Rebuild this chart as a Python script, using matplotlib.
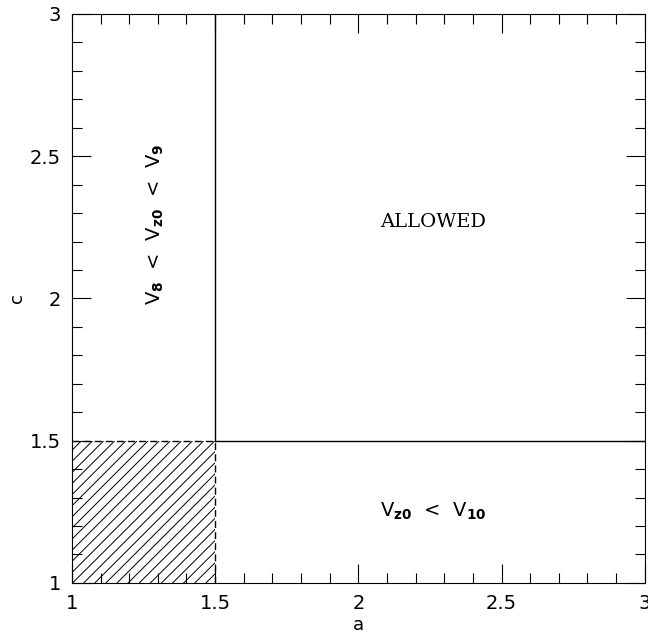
import matplotlib.pyplot as plt
import numpy as np

# region boundaries in (a, c)
aEdge = 1.5
cEdge = 1.5
aLim = [1, 3]
cLim = [1, 3]
majorTicks = [1, 1.5, 2, 2.5, 3]
tickLabels = ["1", "1.5", "2", "2.5", "3"]

fig = plt.figure(figsize=(6.48, 6.35), dpi=100)
ax = fig.add_axes([0.111, 0.082, 0.884, 0.896])

# hatched excluded corner
plt.rcParams['hatch.linewidth'] = 0.7
ax.fill_between([aLim[0], aEdge], cLim[0], cEdge, facecolor='none',
                edgecolor='black', hatch='///', linewidth=0)
ax.plot([aLim[0], aEdge], [cEdge, cEdge], 'k--', lw=1, dashes=(5, 3))
ax.plot([aEdge, aEdge], [cLim[0], cEdge], 'k--', lw=1, dashes=(5, 3))
ax.plot([aEdge, aEdge], [cEdge, cLim[1]], 'k-', lw=1)
ax.plot([aEdge, aLim[1]], [cEdge, cEdge], 'k-', lw=1)

ax.text(1.29, 2.26, r"V$_{\bf 8}$  <  V$_{\bf z0}$  <  V$_{\bf 9}$", rotation=90,
        ha='center', va='center', fontsize=14, family='DejaVu Sans')
ax.text(2.26, 2.27, "ALLOWED", ha='center', va='center', fontsize=14,
        family='serif')
ax.text(2.26, 1.25, r"V$_{\bf z0}$  <  V$_{\bf 10}$", ha='center', va='center',
        fontsize=14, family='DejaVu Sans')

ax.set_xlim(aLim)
ax.set_ylim(cLim)
ax.set_xticks(majorTicks)
ax.set_xticklabels(tickLabels)
ax.set_yticks(majorTicks)
ax.set_yticklabels(tickLabels)
ax.set_xticks(np.arange(1, 3.01, 0.1), minor=True)
ax.set_yticks(np.arange(1, 3.01, 0.1), minor=True)
ax.tick_params(which='both', direction='in', top=True, right=True,
               labelsize=14, pad=8)
ax.tick_params(which='major', length=14, width=0.8)
ax.tick_params(which='minor', length=7, width=0.8)
ax.set_xlabel("a", fontsize=13, labelpad=2)
ax.set_ylabel("c", fontsize=13, labelpad=3)

fig.savefig("out.png", dpi=100)
